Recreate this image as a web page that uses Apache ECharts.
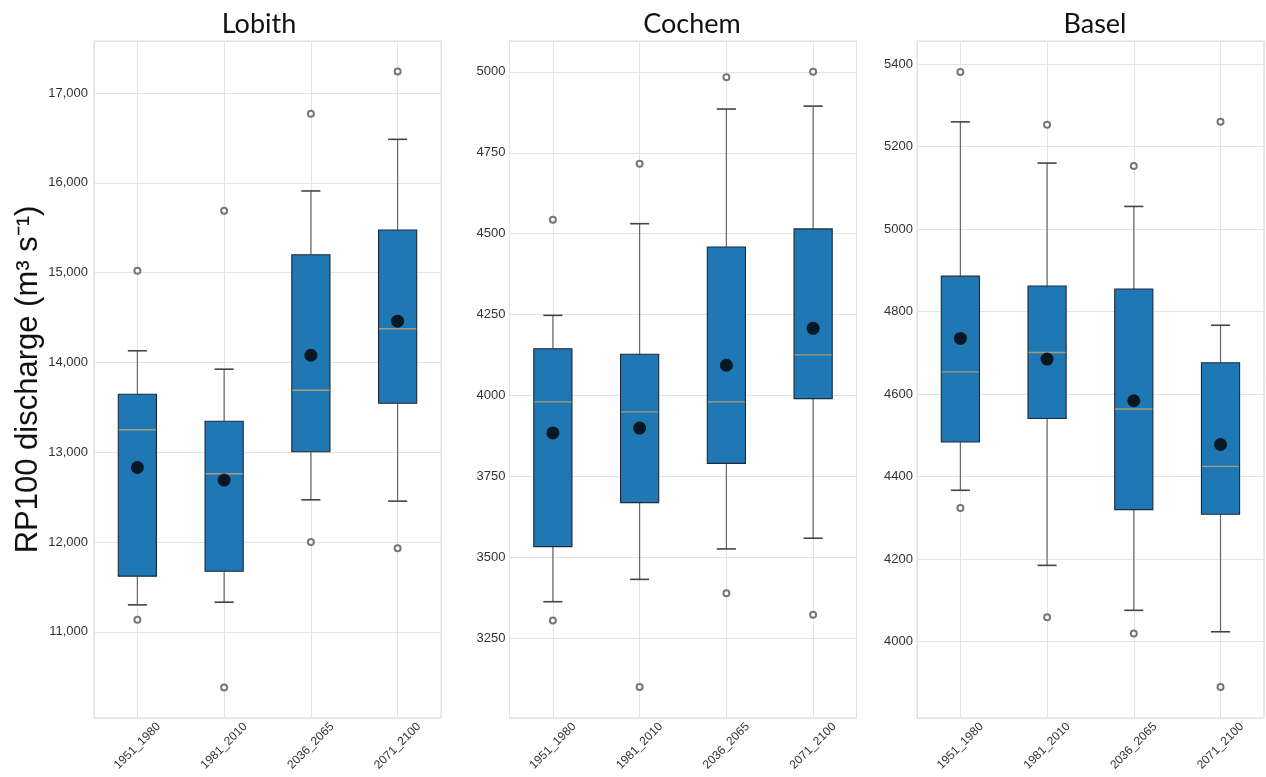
<!DOCTYPE html>
<html>
<head>
<meta charset="utf-8">
<script src="https://cdn.jsdelivr.net/npm/echarts@6/dist/echarts.min.js"></script>
<style>
html,body{margin:0;padding:0;background:#fff;}
#chart{width:1266px;height:777px;}
</style>
</head>
<body>
<div id="chart"></div>
<script>
// ---- data ----
const categories = ['1951_1980', '1981_2010', '2036_2065', '2071_2100'];
const stations = ['Lobith', 'Cochem', 'Basel'];

// [lower whisker, Q1, median, Q3, upper whisker]
const lobithBoxes = [
  [11300, 11620, 13250, 13645, 14130],
  [11330, 11675, 12760, 13345, 13925],
  [12470, 13005, 13690, 15200, 15910],
  [12455, 13545, 14375, 15475, 16485]
];
const lobithMeans = [12830, 12690, 14080, 14460];
const lobithOutliers = [[0, 15020], [0, 11135], [1, 15690], [1, 10380], [2, 16770], [2, 12000], [3, 17240], [3, 11930]];

const cochemBoxes = [
  [3364, 3534, 3981, 4145, 4248],
  [3433, 3670, 3950, 4128, 4531],
  [3527, 3791, 3981, 4459, 4885],
  [3560, 3991, 4126, 4515, 4894]
];
const cochemMeans = [3885, 3900, 4094, 4208];
const cochemOutliers = [[0, 4543], [0, 3306], [1, 4716], [1, 3101], [2, 4983], [2, 3390], [3, 5000], [3, 3324]];

const baselBoxes = [
  [4367, 4484, 4654, 4886, 5260],
  [4185, 4541, 4701, 4862, 5160],
  [4076, 4320, 4564, 4855, 5055],
  [4024, 4309, 4425, 4676, 4767]
];
const baselMeans = [4735, 4685, 4584, 4478];
const baselOutliers = [[0, 5381], [0, 4324], [1, 5253], [1, 4059], [2, 5153], [2, 4020], [3, 5260], [3, 3890]];

const yRanges = [[10040, 17580, 1000], [3005, 5095, 250], [3815, 5456, 200]];
const yAxisTitle = 'RP100 discharge (m³ s⁻¹)';

// ---- chart ----
const allBoxes = [lobithBoxes, cochemBoxes, baselBoxes];
const allMeans = [lobithMeans, cochemMeans, baselMeans];
const allOutliers = [lobithOutliers, cochemOutliers, baselOutliers];

const gridLefts = [94, 509.5, 917];
const gridWidth = 347;
const gridTop = 41;
const gridHeight = 677;
const titleCenters = [254, 687, 1090];
const labelMargins = [6, 4, 4];

const chart = echarts.init(document.getElementById('chart'), null, {renderer: 'canvas'});

function renderBox(params, api) {
  const idx = api.value(0);
  const low = api.value(1), q1 = api.value(2), med = api.value(3), q3 = api.value(4), high = api.value(5);
  const band = api.size([1, 0])[0];
  const bw = band * 0.44;
  const cw = band * 0.22;
  const pLow = api.coord([idx, low]);
  const pQ1 = api.coord([idx, q1]);
  const pMed = api.coord([idx, med]);
  const pQ3 = api.coord([idx, q3]);
  const pHigh = api.coord([idx, high]);
  const x = pLow[0];
  const whisk = {stroke: '#666', lineWidth: 1.2};
  const cap = {stroke: '#444', lineWidth: 1.6};
  return {
    type: 'group',
    children: [
      {type: 'line', shape: {x1: x, y1: pLow[1], x2: x, y2: pQ1[1]}, style: whisk},
      {type: 'line', shape: {x1: x, y1: pQ3[1], x2: x, y2: pHigh[1]}, style: whisk},
      {type: 'line', shape: {x1: x - cw / 2, y1: pLow[1], x2: x + cw / 2, y2: pLow[1]}, style: cap},
      {type: 'line', shape: {x1: x - cw / 2, y1: pHigh[1], x2: x + cw / 2, y2: pHigh[1]}, style: cap},
      {type: 'rect', shape: {x: x - bw / 2, y: pQ3[1], width: bw, height: pQ1[1] - pQ3[1]},
        style: {fill: '#1f77b4', stroke: '#1c2a38', lineWidth: 1.1}},
      {type: 'line', shape: {x1: x - bw / 2 + 0.5, y1: pMed[1], x2: x + bw / 2 - 0.5, y2: pMed[1]},
        style: {stroke: '#a89c7c', lineWidth: 1.4}}
    ]
  };
}

const grids = [], xAxes = [], yAxes = [], series = [], titles = [];
for (let g = 0; g < 3; g++) {
  grids.push({left: gridLefts[g], top: gridTop, width: gridWidth, height: gridHeight,
    show: true, borderColor: '#dcdcdc', borderWidth: 1, backgroundColor: '#fff'});
  titles.push({text: stations[g], left: titleCenters[g], top: 6, textAlign: 'center',
    textStyle: {fontFamily: 'Lato', fontSize: 27, fontWeight: 'normal', color: '#111'}});
  xAxes.push({
    gridIndex: g, type: 'value', min: -0.5, max: 3.5, minInterval: 1, maxInterval: 1,
    axisLine: {show: false}, axisTick: {show: false},
    splitLine: {show: true, lineStyle: {color: '#e3e3e3', width: 1}},
    axisLabel: {
      rotate: 45, margin: 28, align: 'center', verticalAlign: 'middle',
      fontSize: 12, color: '#333', fontFamily: 'Liberation Sans',
      formatter: v => (Number.isInteger(v) && categories[v]) ? categories[v] : ''
    }
  });
  const r = yRanges[g];
  const yAx = {
    gridIndex: g, type: 'value', min: r[0], max: r[1], minInterval: r[2], maxInterval: r[2],
    axisLine: {show: false}, axisTick: {show: false},
    splitLine: {show: true, lineStyle: {color: '#e3e3e3', width: 1}},
    axisLabel: {
      fontSize: 13, color: '#333', fontFamily: 'Liberation Sans', margin: labelMargins[g],
      formatter: v => (Math.abs(v % r[2]) < 1e-6) ? (g === 0 ? v.toLocaleString('en-US') : String(v)) : ''
    }
  };
  if (g === 0) {
    yAx.name = yAxisTitle;
    yAx.nameLocation = 'middle';
    yAx.nameGap = 48;
    yAx.nameTextStyle = {fontSize: 31, color: '#111', fontFamily: 'Liberation Sans'};
  }
  yAxes.push(yAx);

  series.push({
    type: 'custom', xAxisIndex: g, yAxisIndex: g, z: 2,
    renderItem: renderBox,
    encode: {x: 0, y: [1, 2, 3, 4, 5]},
    data: allBoxes[g].map((b, i) => [i].concat(b))
  });
  series.push({
    type: 'scatter', xAxisIndex: g, yAxisIndex: g, z: 3,
    symbol: 'emptyCircle', symbolSize: 6,
    itemStyle: {color: '#555', borderColor: '#555', borderWidth: 1},
    data: allOutliers[g]
  });
  series.push({
    type: 'scatter', xAxisIndex: g, yAxisIndex: g, z: 5,
    symbol: 'circle', symbolSize: 13,
    itemStyle: {color: '#000'},
    data: allMeans[g].map((m, i) => [i, m])
  });
}

chart.setOption({
  animation: false,
  backgroundColor: '#fff',
  title: titles,
  grid: grids,
  xAxis: xAxes,
  yAxis: yAxes,
  series: series
});
</script>
</body>
</html>
